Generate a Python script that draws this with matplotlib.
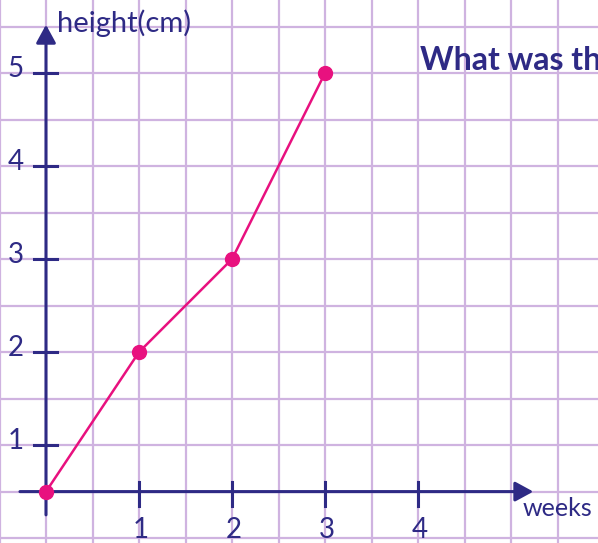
import matplotlib
matplotlib.use("Agg")
import numpy as np
import matplotlib.pyplot as plt

plt.rcParams['font.family'] = ['Lato', 'DejaVu Sans']

weeks = [0, 1, 2, 3]
height_cm = [0.5, 2, 3, 5]
x_ticks = [1, 2, 3, 4]
y_ticks = [1, 2, 3, 4, 5]

navy = '#2e2a85'
pink = '#e8117f'
grid_col = '#cfb3e0'

fig = plt.figure(figsize=(5.98, 5.43), dpi=100)
ax = fig.add_axes([0, 0, 1, 1])
ax.set_xlim(-46 / 93, 552 / 93)
ax.set_ylim(0.5 - 51.4 / 93, 0.5 + 491.6 / 93)
ax.axis('off')

# squared paper
for gx in np.arange(-0.5, 6.01, 0.5):
    ax.axvline(gx, color=grid_col, lw=1.6, zorder=0)
for gy in np.arange(0, 6.01, 0.5):
    ax.axhline(gy, color=grid_col, lw=1.6, zorder=0)

# axes with arrows
arrow = dict(arrowstyle='-|>,head_length=0.55,head_width=0.3',
             color=navy, lw=2.2, mutation_scale=20, shrinkA=0, shrinkB=0)
ax.annotate('', xy=(0, 5.52), xytext=(0, 0.25), arrowprops=arrow, zorder=2)
ax.annotate('', xy=(5.24, 0.5), xytext=(-0.28, 0.5), arrowprops=arrow, zorder=2)

for t in y_ticks:
    ax.plot([-0.13, 0.12], [t, t], color=navy, lw=2.2, zorder=2)
    ax.text(-0.24, t + 0.04, str(t), ha='right', va='center',
            fontsize=20, color=navy)
for t in x_ticks:
    ax.plot([t, t], [0.35, 0.6], color=navy, lw=2.2, zorder=2)
    ax.text(t + 0.02, 0.09, str(t), ha='center', va='center',
            fontsize=20, color=navy)

ax.text(0.12, 5.44, 'height(cm)', ha='left', va='baseline',
        fontsize=21, color=navy)
ax.text(5.12, 0.32, 'weeks', ha='left', va='center',
        fontsize=18, color=navy)
ax.text(4.02, 5.14, 'What was the', ha='left', va='center',
        fontsize=23, color=navy, fontweight='bold')

ax.plot(weeks, height_cm, color=pink, lw=1.8, marker='o', markersize=10,
        zorder=3)

fig.savefig('out.png', dpi=100)
